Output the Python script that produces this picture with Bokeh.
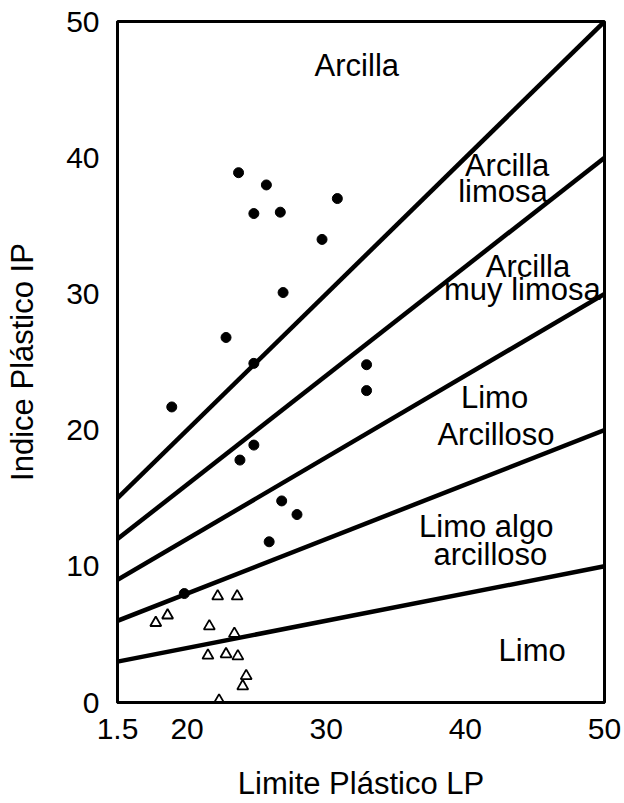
from bokeh.plotting import figure
from bokeh.models import FixedTicker, Range1d
from bokeh.core.properties import value
from bokeh.embed import file_html
from bokeh.resources import INLINE

# ---- data ----
lp_clay = [23.7, 25.7, 30.8, 24.8, 26.7, 29.7, 26.9, 22.8, 24.8, 32.9, 32.9,
           18.9, 24.8, 23.8, 26.8, 27.9, 25.9, 19.8]
ip_clay = [38.9, 38.0, 37.0, 35.9, 36.0, 34.0, 30.1, 26.8, 24.9, 24.8, 22.9,
           21.7, 18.9, 17.8, 14.8, 13.8, 11.8, 8.0]
lp_silt = [17.75, 18.6, 22.2, 23.6, 21.6, 23.4, 21.5, 22.8, 23.65, 24.25, 24.0, 22.3]
ip_silt = [5.85, 6.4, 7.8, 7.8, 5.6, 5.05, 3.45, 3.55, 3.4, 1.95, 1.2, 0.15]
slopes = [1.0, 0.8, 0.6, 0.4, 0.2]
x_ticks = [15, 20, 30, 40, 50]
x_tick_labels = ["1.5", "20", "30", "40", "50"]
y_ticks = [0, 10, 20, 30, 40, 50]
zone_labels = ["Arcilla", "Arcilla", "limosa", "Arcilla", "muy limosa",
               "Limo", "Arcilloso", "Limo algo", "arcilloso", "Limo"]
label_x = [32.2, 43.0, 42.7, 44.5, 44.1, 42.1, 42.2, 41.5, 41.8, 44.8]
label_y = [46.75, 39.4, 37.5, 32.0, 30.3, 22.4, 19.65, 12.9, 10.9, 3.85]
x_min, x_max = 15, 50
y_min, y_max = 0, 50

FONT = "Liberation Sans"

p = figure(width=624, height=803,
           x_range=Range1d(x_min, x_max), y_range=Range1d(y_min, y_max),
           output_backend="svg", toolbar_location=None,
           min_border_left=117, min_border_right=20,
           min_border_top=21, min_border_bottom=96)

p.grid.visible = False
p.outline_line_color = "black"
p.outline_line_width = 3
p.outline_line_alpha = 1.0

p.xaxis.ticker = FixedTicker(ticks=x_ticks)
p.xaxis.major_label_overrides = dict(zip(x_ticks, x_tick_labels))
p.yaxis.ticker = FixedTicker(ticks=y_ticks)
for ax in p.axis:
    ax.major_tick_line_color = None
    ax.minor_tick_line_color = None
    ax.axis_line_color = "black"
    ax.axis_line_width = 3
    ax.major_label_text_font = FONT
    ax.major_label_text_font_size = "30px"
    ax.major_label_text_color = "black"
    ax.axis_label_text_font = FONT
    ax.axis_label_text_font_size = "31px"
    ax.axis_label_text_font_style = "normal"
    ax.axis_label_text_color = "black"

p.xaxis.axis_label = "Limite Plástico LP"
p.yaxis.axis_label = "Indice Plástico IP"
p.xaxis.major_label_standoff = 10
p.yaxis.major_label_standoff = 12
p.xaxis.axis_label_standoff = 24
p.yaxis.axis_label_standoff = 23

for k in slopes:
    p.line([x_min, x_max], [k * x_min, k * x_max], line_color="black", line_width=4.5)

p.scatter(lp_clay, ip_clay, marker="circle", size=10, color="black")
p.scatter(lp_silt, ip_silt, marker="triangle", size=11,
          fill_color="white", line_color="black", line_width=1.8)

p.text(x=label_x, y=label_y, text=zone_labels,
       text_font=value(FONT), text_font_size="31px",
       text_align="center", text_baseline="alphabetic", text_color="black")

open("out.html", "w").write(file_html(p, INLINE))
